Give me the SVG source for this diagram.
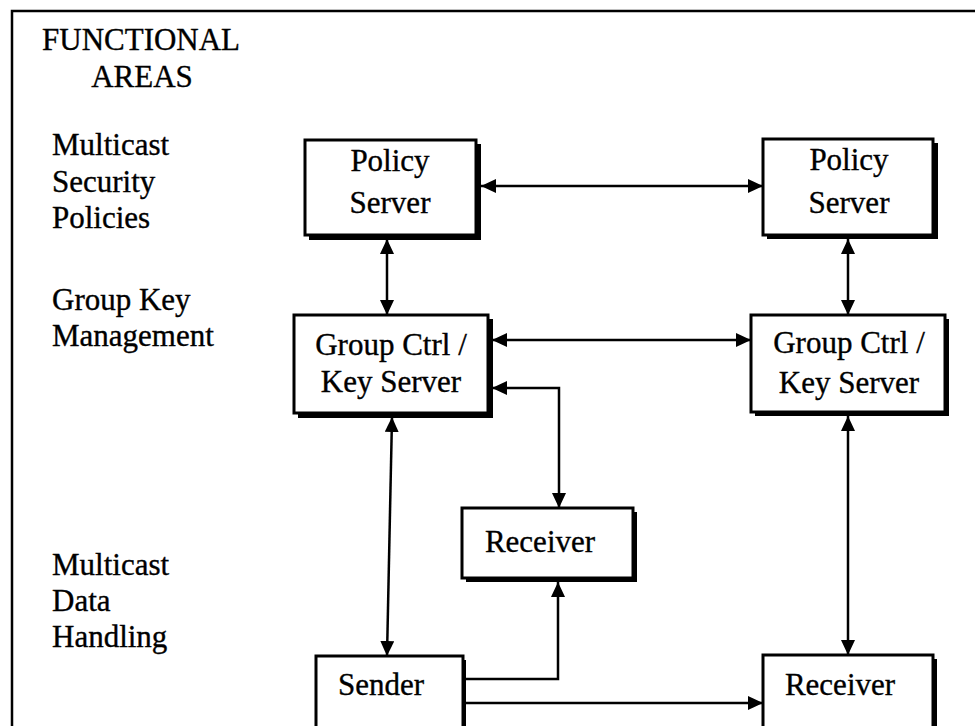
<svg xmlns="http://www.w3.org/2000/svg" width="975" height="726" viewBox="0 0 975 726">
  <style>
    text { font-family: "Liberation Serif", "Times New Roman", serif; font-size: 31px; fill: #000; stroke: #000; stroke-width: 0.35; }
    .mid { text-anchor: middle; }
    .box { fill: #fff; stroke: #000; stroke-width: 3; }
    .shadow { fill: #000; }
    .link { fill: none; stroke: #000; stroke-width: 2.5; }
    .both { marker-start: url(#head); marker-end: url(#head); }
    .one { marker-end: url(#head); }
  </style>
  <defs>
    <marker id="head" markerUnits="userSpaceOnUse" markerWidth="16" markerHeight="15" refX="15" refY="7" orient="auto-start-reverse">
      <path d="M0,0 L15,7 L0,14 z" fill="#000"/>
    </marker>
  </defs>

  <rect width="975" height="726" fill="#fff"/>

  <!-- outer frame: open on right and bottom -->
  <path d="M12,740 V11 H990" fill="none" stroke="#000" stroke-width="2.5"/>

  <!-- functional area labels -->
  <g id="area-labels">
    <text x="42" y="50">FUNCTIONAL</text>
    <text x="142" y="87" class="mid">AREAS</text>
    <text x="52" y="155">Multicast</text>
    <text x="52" y="192">Security</text>
    <text x="52" y="228">Policies</text>
    <text x="52" y="310">Group Key</text>
    <text x="52" y="346">Management</text>
    <text x="52" y="575">Multicast</text>
    <text x="52" y="611">Data</text>
    <text x="52" y="647">Handling</text>
  </g>

  <!-- connectors -->
  <g id="connectors">
    <path class="link both" d="M481,186 H763"/>
    <path class="link both" d="M387,239 V315"/>
    <path class="link both" d="M848,239 V315"/>
    <path class="link both" d="M492,340 H751"/>
    <path class="link both" d="M492,388 H559 V508"/>
    <path class="link both" d="M392,417 L387,656"/>
    <path class="link both" d="M848,416 V655"/>
    <path class="link one" d="M465,679 H558 V582"/>
    <path class="link one" d="M465,703 H763"/>
  </g>

  <g id="policy-server-1">
    <rect class="shadow" x="309" y="144" width="172" height="96"/>
    <rect class="box" x="305" y="140" width="171" height="95"/>
    <text x="390" y="171" class="mid">Policy</text>
    <text x="390" y="213" class="mid">Server</text>
  </g>

  <g id="policy-server-2">
    <rect class="shadow" x="767" y="143" width="171" height="96"/>
    <rect class="box" x="763" y="139" width="170" height="96"/>
    <text x="849" y="170" class="mid">Policy</text>
    <text x="849" y="213" class="mid">Server</text>
  </g>

  <g id="key-server-1">
    <rect class="shadow" x="298" y="319" width="195" height="99"/>
    <rect class="box" x="294" y="315" width="194" height="98"/>
    <text x="391" y="355" class="mid">Group Ctrl /</text>
    <text x="391" y="392" class="mid">Key Server</text>
  </g>

  <g id="key-server-2">
    <rect class="shadow" x="755" y="319" width="194" height="97"/>
    <rect class="box" x="751" y="315" width="194" height="97"/>
    <text x="849" y="353" class="mid">Group Ctrl /</text>
    <text x="849" y="393" class="mid">Key Server</text>
  </g>

  <g id="receiver-1">
    <rect class="shadow" x="466" y="512" width="171" height="70"/>
    <rect class="box" x="462" y="508" width="171" height="70"/>
    <text x="540" y="552" class="mid">Receiver</text>
  </g>

  <g id="sender">
    <rect class="shadow" x="320" y="660" width="146" height="90"/>
    <rect class="box" x="316" y="656" width="147" height="90"/>
    <text x="381" y="695" class="mid">Sender</text>
  </g>

  <g id="receiver-2">
    <rect class="shadow" x="767" y="659" width="170" height="90"/>
    <rect class="box" x="763" y="655" width="170" height="90"/>
    <text x="840" y="695" class="mid">Receiver</text>
  </g>
</svg>
